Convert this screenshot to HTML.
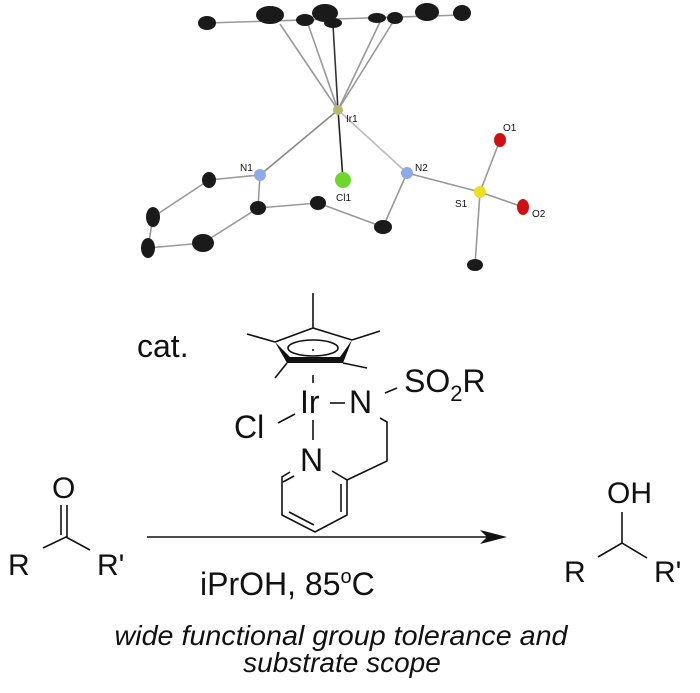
<!DOCTYPE html>
<html><head><meta charset="utf-8"><style>
html,body{margin:0;padding:0;background:#fff;}
svg{display:block;}
text{font-family:"Liberation Sans",sans-serif;fill:#111;}
</style></head><body>
<svg width="700" height="693" viewBox="0 0 700 693" xmlns="http://www.w3.org/2000/svg">
<!-- crystal structure -->
<g stroke="#999" stroke-width="1.6" fill="none">
<line x1="207" y1="23" x2="462" y2="15"/>
<line x1="338" y1="110" x2="280" y2="24"/>
<line x1="338" y1="110" x2="308" y2="24"/>
<line x1="338" y1="110" x2="333" y2="25" stroke="#333"/>
<line x1="338" y1="110" x2="380" y2="22"/>
<line x1="338" y1="110" x2="393" y2="22"/>
<line x1="338" y1="110" x2="343" y2="180" stroke="#222"/>
<line x1="338" y1="110" x2="260" y2="175" stroke="#888"/>
<line x1="338" y1="110" x2="407" y2="173" stroke="#bbb"/>
<line x1="260" y1="175" x2="209" y2="180"/>
<line x1="209" y1="180" x2="153" y2="217"/>
<line x1="153" y1="217" x2="148" y2="248"/>
<line x1="148" y1="248" x2="203" y2="243"/>
<line x1="203" y1="243" x2="258" y2="208"/>
<line x1="258" y1="208" x2="260" y2="175"/>
<line x1="258" y1="208" x2="318" y2="203"/>
<line x1="318" y1="203" x2="383" y2="227"/>
<line x1="383" y1="227" x2="407" y2="173"/>
<line x1="407" y1="173" x2="480" y2="192"/>
<line x1="480" y1="192" x2="500" y2="140"/>
<line x1="480" y1="192" x2="523" y2="207"/>
<line x1="480" y1="192" x2="475" y2="265"/>
</g>
<g fill="#1a1a1a">
<ellipse cx="207" cy="23" rx="9" ry="7"/>
<ellipse cx="270" cy="15" rx="14" ry="9"/>
<ellipse cx="305" cy="20" rx="9" ry="6"/>
<ellipse cx="325" cy="13" rx="13" ry="9"/>
<ellipse cx="333" cy="23" rx="9" ry="5"/>
<ellipse cx="377" cy="18" rx="9" ry="5"/>
<ellipse cx="395" cy="18" rx="8" ry="6"/>
<ellipse cx="427" cy="12" rx="12" ry="9"/>
<ellipse cx="462" cy="13" rx="9" ry="8"/>
<ellipse cx="209" cy="180" rx="7" ry="8"/>
<ellipse cx="153" cy="217" rx="7" ry="10"/>
<ellipse cx="148" cy="248" rx="7" ry="10"/>
<ellipse cx="203" cy="243" rx="11" ry="9"/>
<ellipse cx="258" cy="208" rx="8" ry="7"/>
<ellipse cx="318" cy="203" rx="8" ry="7"/>
<ellipse cx="383" cy="227" rx="9" ry="7"/>
<ellipse cx="475" cy="265" rx="8" ry="6"/>
</g>
<circle cx="338" cy="110" r="5" fill="#b8b86a"/>
<circle cx="343" cy="180" r="8" fill="#6fd62e"/>
<circle cx="260" cy="175" r="6" fill="#8fa8e8"/>
<circle cx="407" cy="173" r="6" fill="#8fa8e8"/>
<circle cx="480" cy="192" r="6" fill="#e8e020"/>
<ellipse cx="500" cy="140" rx="6" ry="7" fill="#d01010"/>
<ellipse cx="523" cy="207" rx="6" ry="8" fill="#d01010"/>
<g font-size="10">
<text x="346" y="122">Ir1</text>
<text x="336" y="201">Cl1</text>
<text x="240" y="171">N1</text>
<text x="415" y="171">N2</text>
<text x="455" y="207">S1</text>
<text x="503" y="131">O1</text>
<text x="532" y="217">O2</text>
</g>
<!-- catalyst -->
<text x="137" y="357" font-size="32">cat.</text>
<g stroke="#111" stroke-width="1.6" fill="none">
<line x1="313" y1="293" x2="313" y2="328"/>
<line x1="275" y1="342" x2="247" y2="334"/>
<line x1="352" y1="340" x2="380" y2="331"/>
<line x1="287" y1="363" x2="275" y2="378"/>
<line x1="343" y1="363" x2="367" y2="368"/>
<polyline points="275,342 313,328 352,340"/>
<ellipse cx="313" cy="348" rx="25" ry="8"/>
<line x1="313" y1="375" x2="313" y2="383"/>
<line x1="330" y1="403" x2="345" y2="403"/>
<line x1="385" y1="393" x2="397" y2="388"/>
<line x1="278" y1="423" x2="295" y2="414"/>
<line x1="313" y1="420" x2="313" y2="440"/>
<polyline points="290,472 282,477 282,515 315,532 347,515 347,480 332,471"/>
<line x1="289" y1="512" x2="314" y2="525"/>
<line x1="341" y1="484" x2="341" y2="512"/>
<line x1="283" y1="482" x2="294" y2="476"/>
<polyline points="347,480 387,461 387,422 380,418"/>
</g>
<polygon points="275,342 287,363 343,363 352,340 340,357 290,357" fill="#111"/>
<circle cx="313" cy="350" r="1" fill="#111"/>
<text x="300" y="413" font-size="32">Ir</text>
<text x="349" y="413" font-size="32">N</text>
<text x="404" y="392" font-size="32">SO<tspan font-size="22" dy="9">2</tspan><tspan dy="-9">R</tspan></text>
<text x="234" y="438" font-size="32">Cl</text>
<text x="300" y="471" font-size="32">N</text>
<!-- ketone -->
<g stroke="#111" stroke-width="1.6" fill="none">
<line x1="61" y1="505" x2="61" y2="535"/>
<line x1="67" y1="505" x2="67" y2="537"/>
<polyline points="43,548 66,537 90,550"/>
<line x1="147" y1="537" x2="490" y2="537"/>
<line x1="622" y1="512" x2="622" y2="543"/>
<polyline points="598,557 622,543 647,558"/>
</g>
<polygon points="507,537 480,530 487,537 480,544" fill="#111"/>
<text x="52" y="498" font-size="30">O</text>
<text x="8" y="575" font-size="30">R</text>
<text x="97" y="575" font-size="30">R'</text>
<text x="200" y="595" font-size="32">iPrOH, 85<tspan font-size="20" dy="-12">o</tspan><tspan dy="12">C</tspan></text>
<text x="607" y="503" font-size="30">OH</text>
<text x="564" y="582" font-size="30">R</text>
<text x="654" y="582" font-size="30">R'</text>
<text x="341" y="645" font-size="28" font-style="italic" text-anchor="middle" textLength="453" lengthAdjust="spacingAndGlyphs">wide functional group tolerance and</text>
<text x="342" y="672" font-size="28" font-style="italic" text-anchor="middle">substrate scope</text>
</svg>
</body></html>
